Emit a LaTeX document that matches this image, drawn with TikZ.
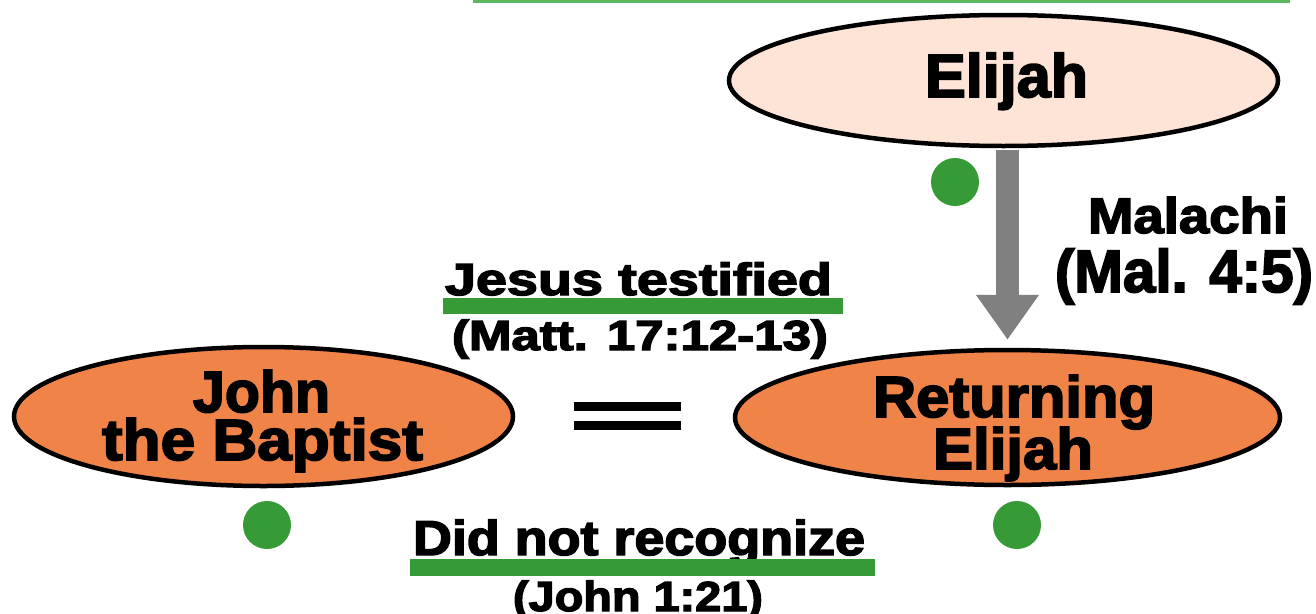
\documentclass[tikz,border=0pt]{standalone}
\usepackage{fontspec}
\usepackage{graphicx}
\setmainfont{Liberation Sans}
\newfontfamily\hfont{Liberation Sans}[UprightFont={* Bold},FakeBold=3]
\usetikzlibrary{shapes.geometric,arrows.meta}
\definecolor{peach}{RGB}{253,228,214}
\definecolor{orng}{RGB}{240,131,72}
\definecolor{grn}{RGB}{54,154,54}
\definecolor{topgrn}{RGB}{92,184,92}
\definecolor{arrgray}{RGB}{128,128,128}
\newcommand{\fitw}[2]{\resizebox{#1pt}{\height}{#2}}
\begin{document}
\begin{tikzpicture}[x=1pt,y=-1pt,
  oval/.style={ellipse,draw=black,line width=4.5pt,inner sep=0pt},
  txt/.style={anchor=base,inner sep=0pt,text=black},
  tight/.style={text height=#1,text depth=0pt},
  dot/.style={circle,fill=grn,minimum size=48pt,inner sep=0pt},
  ubar/.style={fill=grn},
  eqbar/.style={fill=black},
  arr/.style={draw=arrgray,line width=23pt,-{Triangle[width=60pt,length=45pt]}}]
\useasboundingbox (0,0) rectangle (1316,613);
\fill[white] (0,0) rectangle (1316,613);
\draw[topgrn,line width=3pt] (473,1.5) -- (1290,1.5);
% ovals
\node[oval,fill=peach,minimum width=549pt,minimum height=131pt] (elijah) at (1003.5,80.5) {};
\node[oval,fill=orng,minimum width=499pt,minimum height=139pt] (john) at (263.5,416.5) {};
\node[oval,fill=orng,minimum width=545pt,minimum height=135pt] (ret) at (1007.5,417.5) {};
% arrow
\draw[arr,shorten <=2pt,shorten >=8pt] (ret.north |- elijah.south) -- (ret.north);
% texts
\node[txt,font={\hfont\fontsize{61}{61}\selectfont}] (telijah) at (1006.5,97) {\fitw{163}{Elijah}};
\node[txt,tight=43pt,font={\hfont\fontsize{58}{58}\selectfont}] (tjohn) at (261.5,412) {\fitw{137}{John}};
\node[txt,tight=43pt,font={\hfont\fontsize{58}{58}\selectfont}] (tbapt) at (262.5,460) {\fitw{321}{the Baptist}};
\node[txt,tight=43pt,font={\hfont\fontsize{58}{58}\selectfont}] (tret) at (1014,417) {\fitw{282}{Returning}};
\node[txt,tight=43pt,font={\hfont\fontsize{58}{58}\selectfont}] (telijah2) at (1013,469) {\fitw{160}{Elijah}};
\node[txt,font={\hfont\fontsize{50}{50}\selectfont}] (tmal) at (1188,233) {\fitw{200}{Malachi}};
\node[txt,font={\hfont\fontsize{60}{60}\selectfont}] (tmalref) at (1184,292) {\fitw{258}{(Mal. 4:5)}};
\node[txt,font={\hfont\fontsize{45}{45}\selectfont}] (tjesus) at (638.5,295) {\fitw{387}{Jesus testified}};
\node[txt,font={\hfont\fontsize{42}{42}\selectfont}] (tmatt) at (640,350) {\fitw{376}{(Matt. 17:12-13)}};
\node[txt,font={\hfont\fontsize{49}{49}\selectfont}] (tdid) at (639,555) {\fitw{452}{Did not recognize}};
\node[txt,font={\hfont\fontsize{42}{42}\selectfont}] (tjref) at (638,611) {\fitw{250}{(John 1:21)}};
% underlines
\fill[ubar] (443,298) rectangle (843,314);
\fill[ubar] (410,559) rectangle (875,576);
% equal sign
\fill[eqbar] (574,401.5) rectangle (681,410.5);
\fill[eqbar] (574,421) rectangle (681,430);
% dots
\node[dot] (d1) at (955,182) {};
\node[dot] (d2) at (267,525) {};
\node[dot] (d3) at (1017,525) {};
\end{tikzpicture}
\end{document}
